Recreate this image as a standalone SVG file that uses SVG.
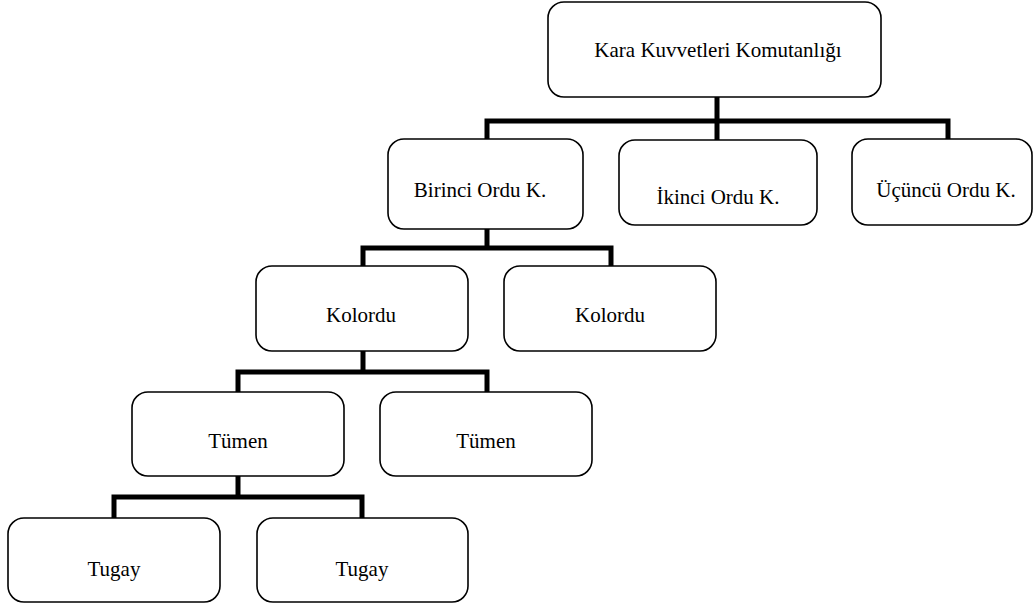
<svg xmlns="http://www.w3.org/2000/svg" width="1034" height="608" viewBox="0 0 1034 608">
<style>
.box{fill:#fff;stroke:#000;stroke-width:1.6}
.lbl{font-family:"Liberation Serif","Times New Roman",serif;font-size:21px;fill:#000;text-anchor:middle}
.conn{fill:none;stroke:#000;stroke-width:5;stroke-linejoin:miter}
</style>
<rect width="1034" height="608" fill="#fff"/>
<g id="connectors">
<path class="conn" d="M717,97 V121 M487,139 V121 H948 V139 M717,121 V140"/>
<path class="conn" d="M487,229 V248 M363,266 V248 H611 V266"/>
<path class="conn" d="M363,351 V372 M238,392 V372 H487 V392"/>
<path class="conn" d="M238,476 V497 M114,518 V497 H362 V518"/>
</g>
<g id="kkk"><rect class="box" x="548" y="2" width="333" height="95" rx="16"/><text class="lbl" x="718" y="57">Kara Kuvvetleri Komutanlığı</text></g>
<g id="ordu1"><rect class="box" x="388" y="139" width="195" height="90" rx="16"/><text class="lbl" x="480" y="197">Birinci Ordu K.</text></g>
<g id="ordu2"><rect class="box" x="619" y="140" width="198" height="85" rx="16"/><text class="lbl" x="718" y="204">İkinci Ordu K.</text></g>
<g id="ordu3"><rect class="box" x="852" y="139" width="180" height="86" rx="16"/><text class="lbl" x="946" y="197">Üçüncü Ordu K.</text></g>
<g id="kolordu1"><rect class="box" x="256" y="266" width="212" height="85" rx="16"/><text class="lbl" x="361" y="322">Kolordu</text></g>
<g id="kolordu2"><rect class="box" x="504" y="266" width="212" height="85" rx="16"/><text class="lbl" x="610" y="322">Kolordu</text></g>
<g id="tumen1"><rect class="box" x="132" y="392" width="212" height="84" rx="16"/><text class="lbl" x="238" y="448">Tümen</text></g>
<g id="tumen2"><rect class="box" x="380" y="392" width="212" height="84" rx="16"/><text class="lbl" x="486" y="448">Tümen</text></g>
<g id="tugay1"><rect class="box" x="8" y="518" width="212" height="84" rx="16"/><text class="lbl" x="114" y="576">Tugay</text></g>
<g id="tugay2"><rect class="box" x="257" y="518" width="211" height="84" rx="16"/><text class="lbl" x="362" y="576">Tugay</text></g>
</svg>
